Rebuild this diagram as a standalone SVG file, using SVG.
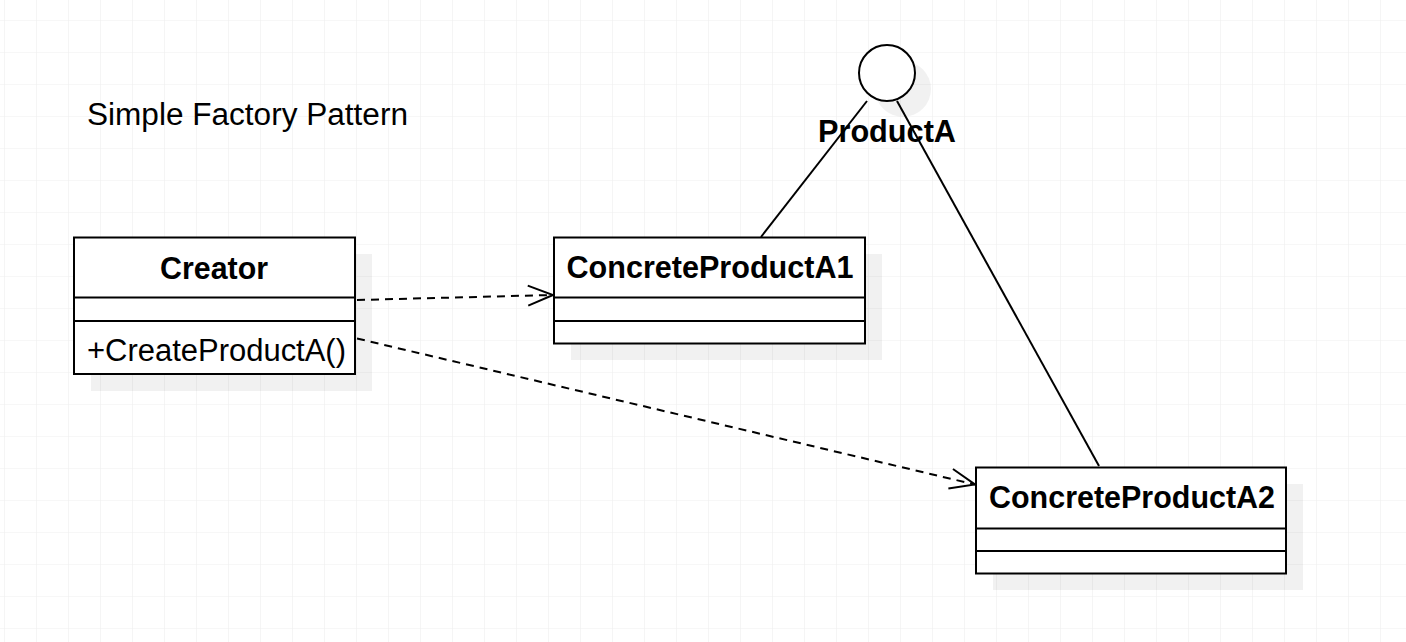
<svg xmlns="http://www.w3.org/2000/svg" width="1406" height="642" viewBox="0 0 1406 642">
<defs>
<pattern id="grid" x="4" y="20" width="32" height="32" patternUnits="userSpaceOnUse">
<path d="M0 0 H32 M0 0 V32" fill="none" stroke="#efefef" stroke-width="1.2"/>
</pattern>
<marker id="open" markerUnits="userSpaceOnUse" viewBox="-27 -12 30 24" refX="0" refY="0" markerWidth="30" markerHeight="24" orient="auto">
<path d="M-25 -10 L0 0 L-25 10" fill="none" stroke="#000" stroke-width="2"/>
</marker>
<style>
.box{fill:#fff;stroke:#000;stroke-width:2}
.shadow{fill:#000;fill-opacity:0.055}
.div{stroke:#000;stroke-width:2}
.bold{font-family:"Liberation Sans",Arial,sans-serif;font-weight:bold;font-size:30.5px;fill:#000}
.reg{font-family:"Liberation Sans",Arial,sans-serif;font-size:31px;fill:#000}
.dash{fill:none;stroke:#000;stroke-width:2;stroke-dasharray:8 6}
.solid{fill:none;stroke:#000;stroke-width:2}
</style>
</defs>
<rect width="1406" height="642" fill="#fff"/>
<rect width="1406" height="642" fill="url(#grid)"/>

<text id="title" class="reg" x="87" y="125" textLength="321" lengthAdjust="spacingAndGlyphs">Simple Factory Pattern</text>

<g id="connectors">
<path class="dash" d="M357 300 L553 295" marker-end="url(#open)"/>
<path class="dash" d="M357 338.5 L975 484.5" marker-end="url(#open)"/>
<path class="solid" d="M761 237 L867 101"/>
<path class="solid" d="M897 101 L1099 466"/>
</g>

<g id="ProductA">
<circle class="shadow" cx="903" cy="89" r="28"/>
<circle class="box" cx="887" cy="73" r="28"/>
<text class="bold" x="818" y="141.5" textLength="138" lengthAdjust="spacingAndGlyphs">ProductA</text>
</g>

<g id="Creator">
<rect class="shadow" x="91" y="254" width="281" height="137"/>
<rect class="box" x="74" y="237.5" width="281" height="136.5"/>
<line class="div" x1="74" y1="297.5" x2="355" y2="297.5"/>
<line class="div" x1="74" y1="321" x2="355" y2="321"/>
<text class="bold" x="160" y="278.5" textLength="108" lengthAdjust="spacingAndGlyphs">Creator</text>
<text class="reg" x="87" y="361" textLength="259" lengthAdjust="spacingAndGlyphs">+CreateProductA()</text>
</g>

<g id="ConcreteProductA1">
<rect class="shadow" x="571" y="254" width="311" height="106"/>
<rect class="box" x="554" y="237.5" width="311" height="106"/>
<line class="div" x1="554" y1="297.5" x2="865" y2="297.5"/>
<line class="div" x1="554" y1="321" x2="865" y2="321"/>
<text class="bold" x="566.5" y="278" textLength="287" lengthAdjust="spacingAndGlyphs">ConcreteProductA1</text>
</g>

<g id="ConcreteProductA2">
<rect class="shadow" x="993" y="484" width="310" height="106"/>
<rect class="box" x="976" y="467.5" width="310" height="106"/>
<line class="div" x1="976" y1="528.5" x2="1286" y2="528.5"/>
<line class="div" x1="976" y1="551" x2="1286" y2="551"/>
<text class="bold" x="989" y="508" textLength="286" lengthAdjust="spacingAndGlyphs">ConcreteProductA2</text>
</g>
</svg>
